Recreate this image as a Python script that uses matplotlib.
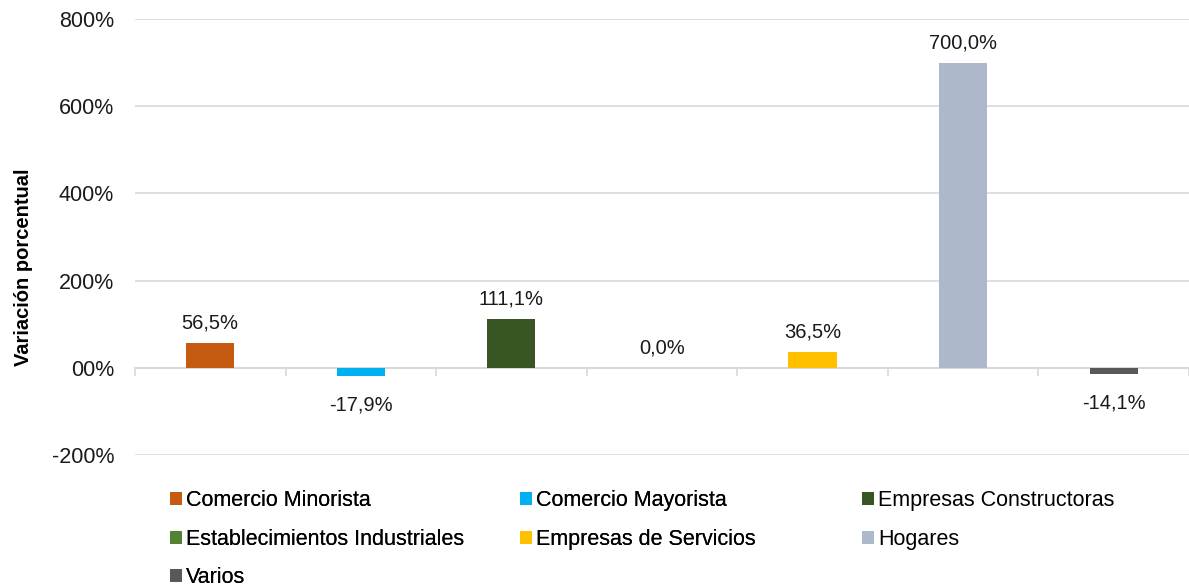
import matplotlib as mpl
mpl.use('Agg')
import matplotlib.pyplot as plt
from matplotlib.ticker import FuncFormatter, FixedLocator

plt.rcParams['font.family'] = ['Liberation Sans', 'DejaVu Sans']

categories = ['Comercio Minorista', 'Comercio Mayorista', 'Empresas Constructoras',
              'Establecimientos Industriales', 'Empresas de Servicios', 'Hogares', 'Varios']
values = [56.5, -17.9, 111.1, 0.0, 36.5, 700.0, -14.1]
colors = ['#C55A11', '#00B0F0', '#375623', '#548235', '#FFC000', '#ADB9CA', '#595959']
y_ticks = [-200, 0, 200, 400, 600, 800]

fig = plt.figure(figsize=(11.89, 5.88), dpi=100)
ax = fig.add_axes([0.1135, 0.2262, 0.8865, 0.7415])

handles = []
for i, (cat, val, col) in enumerate(zip(categories, values, colors)):
    b = ax.bar(i, val, width=0.32, color=col, label=cat, zorder=3)
    handles.append(b)
    lbl = f'{val:.1f}%'.replace('.', ',')
    if val >= 0:
        ax.annotate(lbl, (i, val), xytext=(0, 7.5), textcoords='offset points',
                    ha='center', va='bottom', fontsize=14.5, color='#1a1a1a')
    else:
        ax.annotate(lbl, (i, val), xytext=(0, -14), textcoords='offset points',
                    ha='center', va='top', fontsize=14.5, color='#1a1a1a')

ax.set_xlim(-0.5, len(categories) - 0.5)
ax.set_ylim(-200, 800)
ax.set_yticks(y_ticks)
ax.yaxis.set_major_formatter(FuncFormatter(lambda v, p: '00%' if v == 0 else f'{v:.0f}%'))
ax.tick_params(axis='y', length=0, labelsize=15.5, pad=15, labelcolor='#1a1a1a')
ax.grid(axis='y', color='#D9D9D9', linewidth=1.2, zorder=0)

# category axis sits on the zero line
ax.spines['bottom'].set_position(('data', 0))
ax.spines['bottom'].set_color('#D9D9D9')
ax.spines['bottom'].set_linewidth(1.5)
for s in ['top', 'right', 'left']:
    ax.spines[s].set_visible(False)
ax.set_xticks([])
ax.xaxis.set_minor_locator(FixedLocator([i - 0.5 for i in range(len(categories) + 1)]))
ax.tick_params(axis='x', which='minor', length=6, width=1.2, color='#D9D9D9', direction='out')

ax.set_ylabel('Variación porcentual', fontsize=14.5, fontweight='bold')
ax.yaxis.set_label_coords(-0.097, 0.43)

# legend laid out row by row in three columns
col_x = [170, 520, 862]
row_y0 = 490
for c in range(3):
    idx = list(range(c, len(categories), 3))
    leg = fig.legend([handles[k] for k in idx], [categories[k] for k in idx],
                     loc='upper left', bbox_to_anchor=(col_x[c] / 1189, 1 - row_y0 / 588),
                     frameon=False, fontsize=15.5, handlelength=0.55, handleheight=0.55,
                     handletextpad=0.2, labelspacing=0.82, borderpad=0, borderaxespad=0)
    if c < 2:
        fig.add_artist(leg)

fig.savefig('out.png', dpi=100)
